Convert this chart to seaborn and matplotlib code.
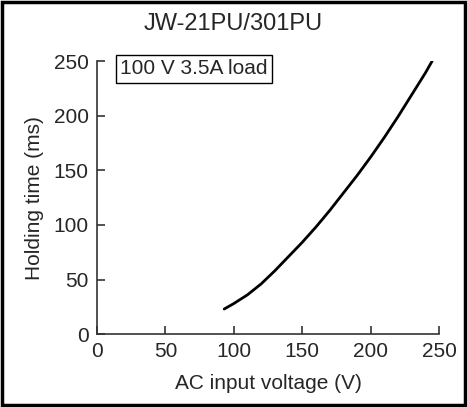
import matplotlib
matplotlib.use("Agg")
import pandas as pd
import seaborn as sns
from matplotlib import pyplot as plt
from matplotlib.patches import Rectangle

# values
voltage = [93, 100, 110, 120, 130, 140, 150, 160, 170, 180, 190, 200, 210, 220, 230, 240, 245]
holding = [23, 28, 36, 46, 58, 71, 84, 98, 113, 129, 145, 162, 180, 199, 219, 239, 250]
x_ticks = [0, 50, 100, 150, 200, 250]
y_ticks = [0, 50, 100, 150, 200, 250]

sns.set_style("ticks")
plt.rcParams['font.family'] = ['Liberation Sans', 'DejaVu Sans']

fig = plt.figure(figsize=(4.67, 4.07), dpi=100)
ax = fig.add_axes([0.2077, 0.179, 0.7323, 0.671])

data = pd.DataFrame({"voltage": voltage, "holding": holding})
sns.lineplot(data=data, x="voltage", y="holding", ax=ax, color="black", linewidth=2)

ax.set_xlim(0, 250)
ax.set_ylim(0, 250)
ax.set_xticks(x_ticks)
ax.set_yticks(y_ticks)
ax.tick_params(direction="in", length=6, width=1.2, labelsize=15, pad=6, color="#333333")
for side in ["top", "right"]:
    ax.spines[side].set_visible(False)
for side in ["left", "bottom"]:
    ax.spines[side].set_linewidth(1.2)
    ax.spines[side].set_color("#333333")

ax.set_xlabel("AC input voltage (V)", fontsize=15, labelpad=9)
ax.set_ylabel("Holding time (ms)", fontsize=15, labelpad=7)

ax.text(0.067, 0.971, "100 V 3.5A load", transform=ax.transAxes, fontsize=15,
        va="center", ha="left",
        bbox=dict(boxstyle="square,pad=0.2", facecolor="white", edgecolor="black", linewidth=1))

fig.text(0.5, 0.94, "JW-21PU/301PU", ha="center", va="center", fontsize=17)

fig.add_artist(Rectangle((0.004, 0.005), 0.992, 0.99, transform=fig.transFigure,
                         fill=False, edgecolor="black", linewidth=2.5))

fig.savefig("out.png", dpi=100)
